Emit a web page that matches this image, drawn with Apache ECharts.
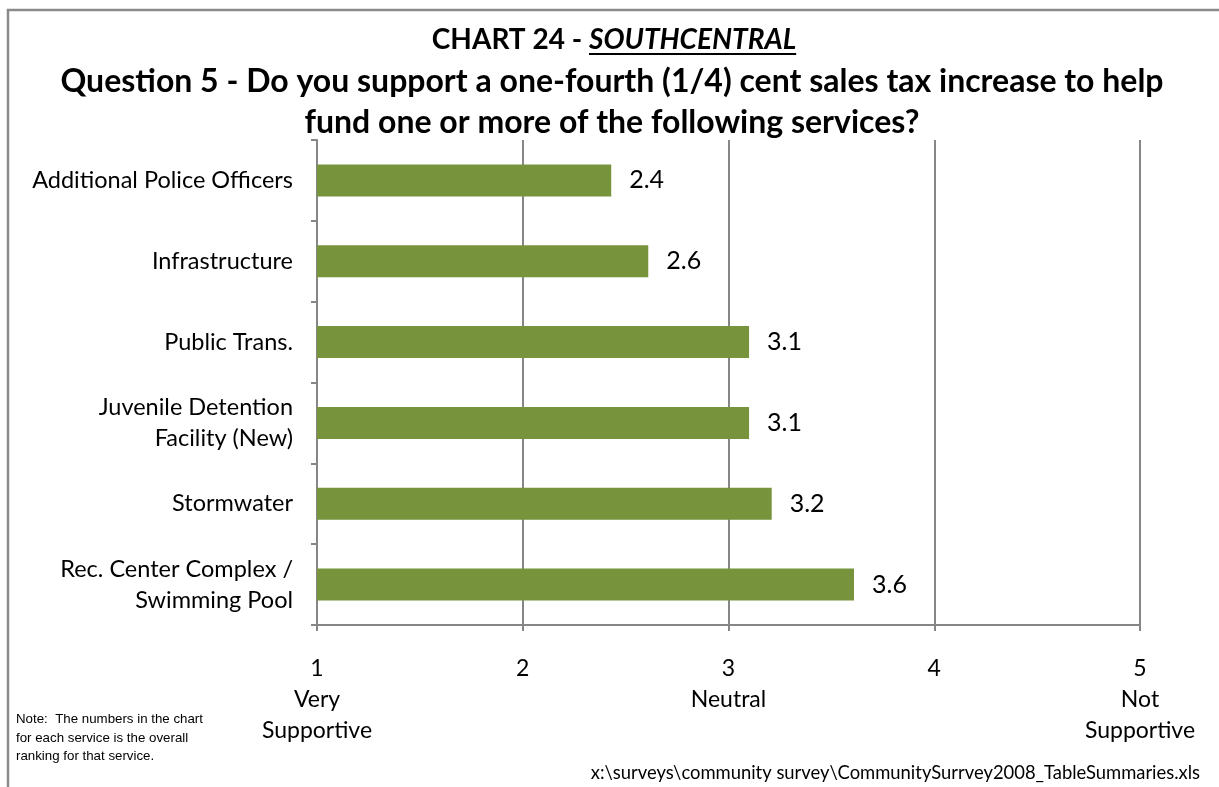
<!DOCTYPE html>
<html><head><meta charset="utf-8">
<script src="https://cdn.jsdelivr.net/npm/echarts@6/dist/echarts.min.js"></script>
<style>html,body{margin:0;padding:0;background:#fff}#c{width:1219px;height:787px}</style>
</head><body><div id="c"></div>
<script>
const categories = ['Additional Police Officers', 'Infrastructure', 'Public Trans.', 'Juvenile Detention\nFacility (New)', 'Stormwater', 'Rec. Center Complex /\nSwimming Pool'];
const values = [2.43, 2.61, 3.1, 3.1, 3.21, 3.61];
const tickLabels = {1: '1\nVery\nSupportive', 2: '2', 3: '3\nNeutral', 4: '4', 5: '5\nNot\nSupportive'};
const titleLine1a = 'CHART 24 - ';
const titleLine1b = 'SOUTHCENTRAL';
const titleLines23 = 'Question 5 - Do you support a one-fourth (1/4) cent sales tax increase to help\nfund one or more of the following services?';
const noteText = 'Note:  The numbers in the chart\nfor each service is the overall\nranking for that service.';
const pathText = 'x:\\surveys\\community survey\\CommunitySurrvey2008_TableSummaries.xls';

const FF = 'Lato, "Open Sans", sans-serif';
const GRAY = '#868686';

function measure(font, txt) {
  const c = document.createElement('canvas').getContext('2d');
  c.font = font; return c.measureText(txt).width;
}
const f1a = 'bold 28px ' + FF, f1b = 'italic bold 28px ' + FF;
const w1a = measure(f1a, titleLine1a), w1b = measure(f1b, titleLine1b);
const cx = 614;
const s1 = cx - (w1a + w1b) / 2;

const chart = echarts.init(document.getElementById('c'), null, {renderer: 'canvas'});
chart.setOption({
  animation: false,
  backgroundColor: '#fff',
  grid: {left: 317, right: 79, top: 140, bottom: 162, containLabel: false},
  xAxis: {
    type: 'value', min: 1, max: 5, interval: 1,
    axisLine: {show: true, lineStyle: {color: GRAY, width: 2}},
    axisTick: {show: true, length: 6, lineStyle: {color: GRAY, width: 2}},
    splitLine: {show: true, lineStyle: {color: GRAY, width: 2}},
    axisLabel: {
      margin: 28, color: '#000', fontFamily: FF, fontSize: 23, lineHeight: 31,
      verticalAlign: 'top', align: 'center',
      formatter: v => tickLabels[v] || String(v)
    }
  },
  yAxis: {
    type: 'category', data: categories, inverse: true,
    axisLine: {show: true, lineStyle: {color: GRAY, width: 2}},
    axisTick: {show: true, length: 6, lineStyle: {color: GRAY, width: 2}},
    axisLabel: {margin: 24, color: '#000', fontFamily: FF, fontSize: 23.5, lineHeight: 31, align: 'right'},
    splitLine: {show: false}
  },
  series: [{
    type: 'bar', data: values, barWidth: 32,
    itemStyle: {color: '#77933C'},
    label: {show: true, position: 'right', distance: 18, color: '#000', fontFamily: FF, fontSize: 25,
      formatter: p => p.value.toFixed(1)}
  }],
  graphic: [
    {type: 'rect', shape: {x: 8, y: 10, width: 1260, height: 820}, style: {fill: 'none', stroke: '#8a8a8a', lineWidth: 2.5}, z: 100},
    {type: 'text', style: {text: titleLine1a, x: s1, y: 40, font: f1a, fill: '#000', textAlign: 'left', textVerticalAlign: 'middle'}},
    {type: 'text', style: {text: titleLine1b, x: s1 + w1a, y: 40, font: f1b, fill: '#000', textAlign: 'left', textVerticalAlign: 'middle'}},
    {type: 'line', shape: {x1: s1 + w1a, y1: 54, x2: s1 + w1a + w1b, y2: 54}, style: {stroke: '#000', lineWidth: 2}},
    {type: 'text', style: {text: titleLines23, x: cx - 2, y: 102, font: 'bold 32px ' + FF, lineHeight: 41, fill: '#000', textAlign: 'center', textVerticalAlign: 'middle'}},
    {type: 'text', style: {text: noteText, x: 16, y: 738, font: '13.3px "Liberation Sans", Arial, sans-serif', lineHeight: 18.5, fill: '#000', textAlign: 'left', textVerticalAlign: 'middle'}},
    {type: 'text', style: {text: pathText, x: 1200, y: 773, font: '18.4px ' + FF, fill: '#000', textAlign: 'right', textVerticalAlign: 'middle'}}
  ]
});
</script></body></html>
